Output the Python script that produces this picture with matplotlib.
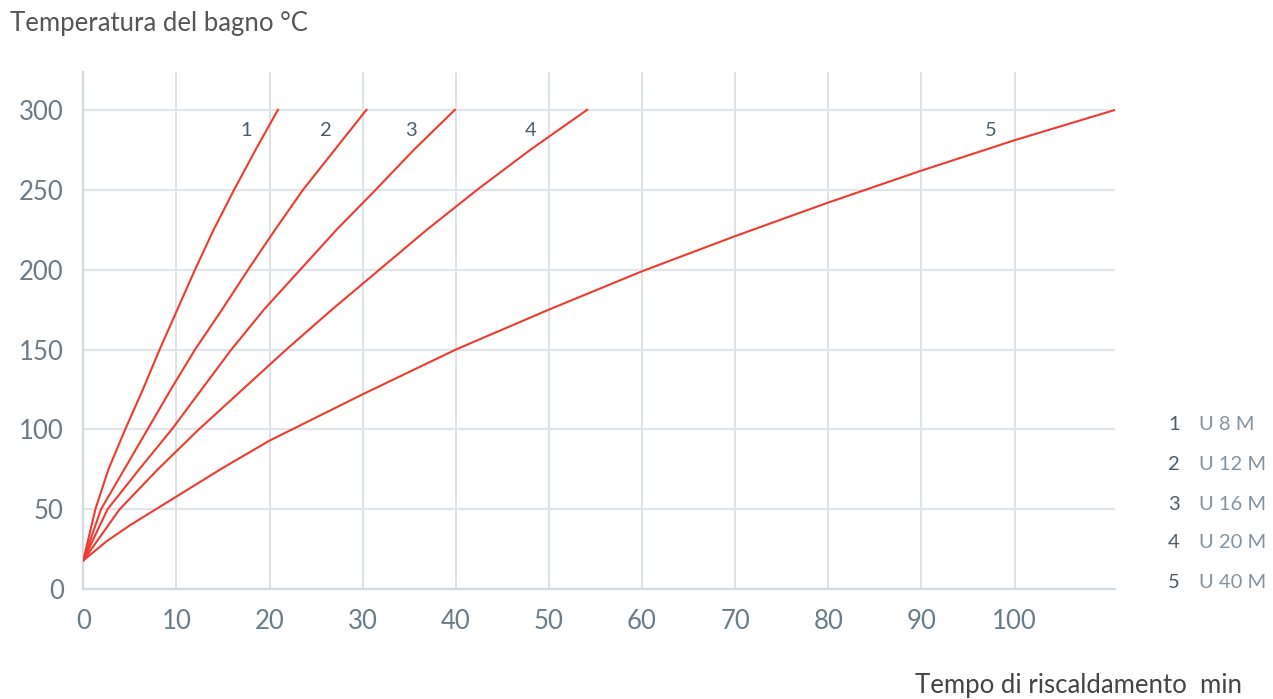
import numpy as np
import matplotlib
matplotlib.use("Agg")
import matplotlib.pyplot as plt

plt.rcParams['font.family'] = ['Lato', 'DejaVu Sans']

# curve data: heating time (min) vs bath temperature (degC)
t1 = [0, 1.3, 2.7, 4.5, 6.4, 8.2, 10.1, 12.0, 14.0, 16.2, 18.5, 20.9]
T1 = [18, 50, 75, 100, 125, 150, 175, 200, 225, 250, 275, 300]
t2 = [0, 1.9, 4.4, 6.9, 9.4, 12.0, 14.9, 17.7, 20.6, 23.6, 27.0, 30.4]
T2 = [18, 50, 75, 100, 125, 150, 175, 200, 225, 250, 275, 300]
t3 = [0, 2.6, 6.0, 9.5, 12.7, 15.9, 19.4, 23.3, 27.2, 31.4, 35.5, 39.9]
T3 = [18, 50, 75, 100, 125, 150, 175, 200, 225, 250, 275, 300]
t4 = [0, 3.9, 8.0, 12.4, 17.1, 21.8, 26.7, 31.8, 36.9, 42.3, 48.0, 54.1]
T4 = [18, 50, 75, 100, 125, 150, 175, 200, 225, 250, 275, 300]
t5 = [0, 2.5, 5, 10, 15, 20, 30, 40, 50, 60, 70, 80, 90, 100, 110.8]
T5 = [18, 30, 40, 58, 76, 93, 122, 150, 175, 199, 221, 242, 262, 281, 300]

curve_ids = ['1', '2', '3', '4', '5']
models = ['U 8 M', 'U 12 M', 'U 16 M', 'U 20 M', 'U 40 M']
label_x = [17.5, 26.1, 35.2, 48.0, 97.4]

xticks = [0, 10, 20, 30, 40, 50, 60, 70, 80, 90, 100]
yticks = [0, 50, 100, 150, 200, 250, 300]

red = '#ef3b2f'
grid_c = '#d3dae0'
tick_c = '#6a7c88'

fig = plt.figure(figsize=(12.73, 6.99), dpi=100)
ax = fig.add_axes([0.0654, 0.157, 0.876 - 0.0654, 0.897 - 0.157])

for tx, ty in [(t1, T1), (t2, T2), (t3, T3), (t4, T4), (t5, T5)]:
    ax.plot(tx, ty, color=red, lw=1.5, solid_joinstyle='round', zorder=3)

ax.set_xlim(0, 110.8)
ax.set_ylim(0, 323.7)
ax.set_xticks(xticks)
ax.set_yticks(yticks)
for v in xticks[1:]:
    ax.axvline(v, color=grid_c, lw=1.1, zorder=1)
for v in yticks[1:]:
    ax.axhline(v, color='#e1e5e9', lw=1.6, zorder=1)
for s in ['top', 'right']:
    ax.spines[s].set_visible(False)
for s in ['left', 'bottom']:
    ax.spines[s].set_color(grid_c)
    ax.spines[s].set_linewidth(1.6)
ax.tick_params(length=0, pad=14, labelsize=18.5, labelcolor=tick_c)

for cid, lx in zip(curve_ids, label_x):
    ax.text(lx, 287, cid, color='#4d5d69', fontsize=14.5, ha='center', va='center')

# legend on the right
leg_y = [424, 464, 504, 543, 583]
for cid, m, py in zip(curve_ids, models, leg_y):
    fy = 1 - py / 699
    fig.text(1180 / 1273, fy, cid, color='#4d5d69', fontsize=14.5, ha='right', va='center')
    fig.text(1199 / 1273, fy, m, color='#8493a0', fontsize=14.5, ha='left', va='center')

fig.text(10 / 1273, 1 - 23 / 699, 'Temperatura del bagno °C', color='#555555',
         fontsize=18.5, ha='left', va='center')
fig.text(1242 / 1273, 1 - 686 / 699, 'Tempo di riscaldamento  min', color='#444444',
         fontsize=18.5, ha='right', va='center')

fig.savefig('out.png', dpi=100)
